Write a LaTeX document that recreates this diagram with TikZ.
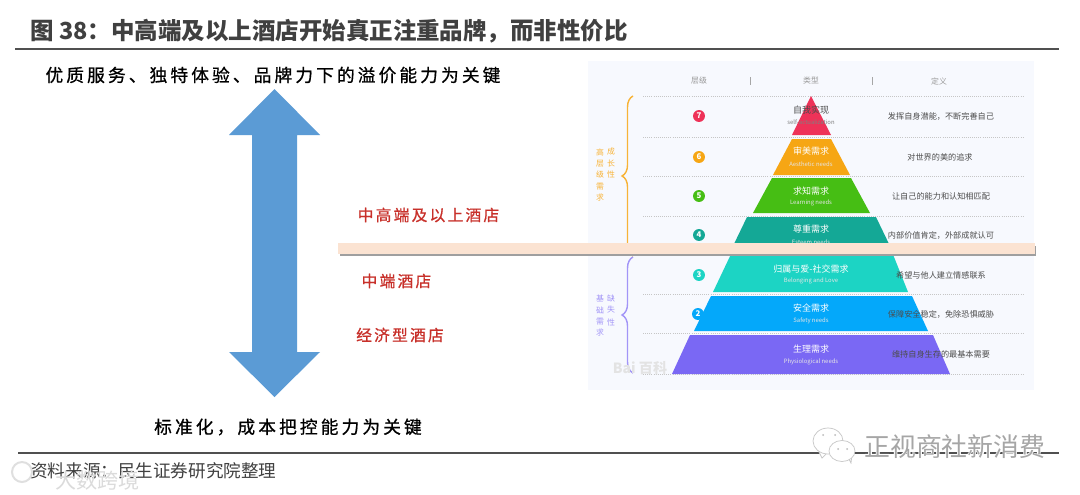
\documentclass[tikz,border=0pt]{standalone}
\usepackage{fontspec}
\usepackage{xcolor}
\setmainfont{Noto Sans CJK SC}
\newfontfamily\cjkspaced[LetterSpace=14, FakeBold=0.8]{Noto Sans CJK SC}
\newfontfamily\cjkwide[LetterSpace=17.5, FakeBold=0.8]{Noto Sans CJK SC}
\usetikzlibrary{decorations.pathreplacing}
\definecolor{panelBlue}{RGB}{247, 249, 254}
\definecolor{arrowBlue}{RGB}{91, 155, 213}
\definecolor{bandPeach}{RGB}{251, 227, 210}
\definecolor{hotelRed}{RGB}{200, 48, 42}
\definecolor{ruleGrey}{RGB}{80, 80, 80}
\definecolor{titleGrey}{RGB}{64, 64, 64}
\definecolor{levelRed}{RGB}{238, 50, 88}
\definecolor{levelOrange}{RGB}{246, 166, 20}
\definecolor{levelGreen}{RGB}{70, 190, 20}
\definecolor{levelTeal}{RGB}{20, 168, 150}
\definecolor{levelAqua}{RGB}{28, 212, 196}
\definecolor{levelBlue}{RGB}{4, 168, 250}
\definecolor{levelPurple}{RGB}{122, 104, 244}
\colorlet{braceOrange}{levelOrange!85!white}
\colorlet{bracePurple}{levelPurple!70!white}
\tikzset{
    keytext/.style={font=\cjkwide\fontsize{12.6}{14}\selectfont, text=black},
    hoteltext/.style={font=\cjkspaced\fontsize{11.2}{13}\selectfont, text=hotelRed},
    headtext/.style={font=\fontsize{5.6}{7}\selectfont, text=gray!80},
    deftext/.style={font=\fontsize{5.8}{7}\selectfont, text=black!70},
    layername/.style={font=\fontsize{6.4}{8}\selectfont, text=white},
    layerenglish/.style={font=\fontsize{4.2}{5}\selectfont, text=white!80!gray},
    sidetext/.style={font=\fontsize{5.6}{7}\selectfont},
    levelmark/.style={circle, minimum size=8.5pt, inner sep=0pt, text=white, font=\fontsize{5.6}{6}\selectfont\bfseries},
    dotline/.style={gray!45, densely dotted, line width=0.5pt},
    brace/.style={decorate, decoration={brace, amplitude=7.8pt}, line width=1pt},
    bubble/.style={draw=gray!45, fill=white, line width=0.5pt}
}

\begin{document}
\begin{tikzpicture}[x=0.025cm, y=-0.025cm]
    \useasboundingbox[fill=white] (0,0) rectangle (1080,494);

    % Title and the two rules
    \node[anchor=west, inner sep=0pt, text=titleGrey, font=\fontsize{16.7}{20}\selectfont\bfseries] (title) at (30,31) {图 38：中高端及以上酒店开始真正注重品牌，而非性价比};
    \draw[ruleGrey, line width=1.3pt] (15,49) -- (1059,49);
    \draw[ruleGrey, line width=1.5pt] (18,453) -- (1059,453);

    % Double arrow
    \fill[arrowBlue] (274.5,89) -- (320,135) -- (297,135) -- (297,352) -- (320,352) -- (274.5,397) -- (229,352) -- (252,352) -- (252,135) -- (229,135) -- cycle;

    % Left labels
    \node[keytext] (premium) at (273,75) {优质服务、独特体验、品牌力下的溢价能力为关键};
    \node[keytext] (standard) at (288,427) {标准化，成本把控能力为关键};
    \node[hoteltext] (upscale) at (428.5,215) {中高端及以上酒店};
    \node[hoteltext] (midscale) at (396.5,281) {中端酒店};
    \node[hoteltext] (economy) at (400,335) {经济型酒店};

    % Panel behind the pyramid
    \fill[panelBlue] (588,61) rectangle (1034,390);

    % Header row
    \node[headtext] (headLevel) at (699,81) {层级};
    \node[headtext] (headType) at (811,81) {类型};
    \node[headtext] (headDef) at (939,81) {定义};
    \draw[gray!70, line width=0.5pt] (750,77) -- (750,85);
    \draw[gray!70, line width=0.5pt] (872,77) -- (872,85);

    % Dotted row lines
    \foreach \rowy in {96,137,176,216,294,333,374}
        \draw[dotline] (643,\rowy) -- (1023,\rowy);

    % Braces and their side texts
    \draw[brace, braceOrange] (633,256) -- (633,96);
    \draw[brace, bracePurple] (633,373) -- (633,257);
    \foreach \sidey/\sidechar in {152/高,164/层,175/级,187/需,198/求}
        \node[sidetext, text=braceOrange] at (600,\sidey) {\sidechar};
    \foreach \sidey/\sidechar in {152/成,164/长,175/性}
        \node[sidetext, text=braceOrange] at (611,\sidey) {\sidechar};
    \foreach \sidey/\sidechar in {298/基,310/础,322/需,333/求}
        \node[sidetext, text=bracePurple] at (600,\sidey) {\sidechar};
    \foreach \sidey/\sidechar in {298/缺,310/失,322/性}
        \node[sidetext, text=bracePurple] at (611,\sidey) {\sidechar};

    % Level marks
    \node[levelmark, fill=levelRed] (mark7) at (699,116) {7};
    \node[levelmark, fill=levelOrange] (mark6) at (699,157) {6};
    \node[levelmark, fill=levelGreen] (mark5) at (699,196) {5};
    \node[levelmark, fill=levelTeal] (mark4) at (699,235) {4};
    \node[levelmark, fill=levelAqua] (mark3) at (699,275) {3};
    \node[levelmark, fill=levelBlue] (mark2) at (698,314) {2};

    % Pyramid layers
    \fill[levelRed] (811,96) -- (831,135) -- (792,135) -- cycle;
    \fill[levelOrange] (792,139) -- (831,139) -- (850,175) -- (773,175) -- cycle;
    \fill[levelGreen] (772,178) -- (851,178) -- (870,213) -- (753,213) -- cycle;
    \fill[levelTeal] (747,217) -- (876,217) -- (890,246) -- (733,246) -- cycle;
    \fill[levelAqua] (732,252) -- (892,252) -- (908,292) -- (713,292) -- cycle;
    \fill[levelBlue] (711,296) -- (912,296) -- (928,331) -- (694,331) -- cycle;
    \fill[levelPurple] (690,335) -- (933,335) -- (950,374) -- (672,374) -- cycle;

    % Layer names
    \node[layername, text=black!70] (name7) at (811,110.5) {自我实现};
    \node[layerenglish, text=gray] (eng7) at (811,122.5) {self-actualization};
    \node[layername] (name6) at (811,151) {审美需求};
    \node[layerenglish] (eng6) at (811,164) {Aesthetic needs};
    \node[layername] (name5) at (811,191) {求知需求};
    \node[layerenglish] (eng5) at (811,203) {Learning needs};
    \node[layername] (name4) at (811,229) {尊重需求};
    \node[layerenglish] (eng4) at (811,242) {Esteem needs};
    \node[layername] (name3) at (811,269) {归属与爱-社交需求};
    \node[layerenglish] (eng3) at (811,281) {Belonging and Love};
    \node[layername] (name2) at (811,308) {安全需求};
    \node[layerenglish] (eng2) at (811,321) {Safety needs};
    \node[layername] (name1) at (811,349) {生理需求};
    \node[layerenglish] (eng1) at (811,362) {Physiological needs};

    % Definitions
    \node[deftext] (def7) at (941,116) {发挥自身潜能，不断完善自己};
    \node[deftext] (def6) at (940,157) {对世界的美的追求};
    \node[deftext] (def5) at (941,196) {让自己的能力和认知相匹配};
    \node[deftext] (def4) at (941,235) {内部价值肯定，外部成就认可};
    \node[deftext] (def3) at (941,275) {希望与他人建立情感联系};
    \node[deftext] (def2) at (941,314) {保障安全稳定，免除恐惧威胁};
    \node[deftext] (def1) at (941,354) {维持自身生存的最基本需要};

    % Peach band across the panel
    \fill[gray!75] (340,246) rectangle (1036,256);
    \fill[bandPeach] (338,243) rectangle (1035,254);

    % Source line
    \node[anchor=west, inner sep=0pt, text=black!75, font=\fontsize{12.5}{15}\selectfont] (source) at (30,471) {资料来源：民生证券研究院整理};

    % Watermarks
    \node[text=gray!22, font=\fontsize{10}{12}\selectfont\bfseries] (markBaike) at (640,368) {Bai 百科};
    \draw[gray!25, line width=1.4pt] (22,472) circle (10);
    \node[anchor=west, inner sep=0pt, text=gray!28, font=\fontsize{15}{17}\selectfont] (markLeft) at (55,480) {大数跨境};
    \draw[bubble] (819,452) -- (822,458) -- (827,453);
    \draw[bubble] (828,441) ellipse (15 and 13);
    \draw[bubble] (848,457) -- (851,463) -- (852,455);
    \draw[bubble] (842,451) ellipse (13 and 10.5);
    \fill[gray!55] (823,435) circle (1) (835,435) circle (1) (838,449) circle (1) (847,449) circle (1);
    \node[anchor=west, inner sep=0pt, text=white, font=\fontsize{18.4}{22}\selectfont\bfseries] (markHalo) at (864,447) {正视商社新消费};
    \node[anchor=west, inner sep=0pt, text=gray!70, font=\fontsize{18.4}{22}\selectfont] (markRight) at (864,447) {正视商社新消费};
\end{tikzpicture}
\end{document}
